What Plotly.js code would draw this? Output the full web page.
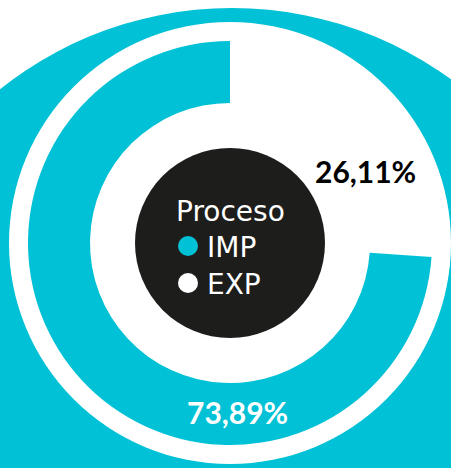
<!DOCTYPE html>
<html>
<head>
<meta charset="utf-8">
<script src="https://cdn.plot.ly/plotly-3.0.1.min.js"></script>
<style>html,body{margin:0;padding:0;background:#fff;}#chart{width:451px;height:468px;}</style>
</head>
<body>
<div id="chart"></div>
<script>
// ---- data ----
const legendTitle = "Proceso";
const categories = ["IMP", "EXP"];
const shares = [73.89, 26.11];
const sliceColors = ["#00c1d5", "#ffffff"];
const labelColors = ["#ffffff", "#000000"];

// ---- geometry (pixels) ----
const W = 451, H = 468;
const cx = 230, cy = 243;      // donut centre
const rOut = 202, rHole = 140; // donut radii
const px = x => x / W;
const py = y => 1 - y / H;

function fmt(v) { return v.toFixed(2).replace('.', ',') + '%'; }

const shapes = [
  {type:'circle', xref:'paper', yref:'paper', layer:'below',
   x0:px(232-372), x1:px(232+372), y0:py(380+372), y1:py(380-372),
   fillcolor:'#00c1d5', line:{width:0}},
  {type:'circle', xref:'paper', yref:'paper', layer:'below',
   x0:px(cx-221), x1:px(cx+221), y0:py(cy+221), y1:py(cy-221),
   fillcolor:'#ffffff', line:{width:0}},
  {type:'circle', xref:'paper', yref:'paper', layer:'above',
   x0:px(cx-95), x1:px(cx+95), y0:py(cy+95), y1:py(cy-95),
   fillcolor:'#1d1d1b', line:{width:0}}
];

const dotY = [246, 283];
categories.forEach((c, i) => {
  shapes.push({type:'circle', xref:'paper', yref:'paper', layer:'above',
    x0:px(178), x1:px(198), y0:py(dotY[i]+10), y1:py(dotY[i]-10),
    fillcolor:sliceColors[i], line:{width:0}});
});

const legendFont = {family:'DejaVu Sans, sans-serif', size:28, color:'#ffffff'};
const annotations = [
  {text:legendTitle, xref:'paper', yref:'paper', x:px(174), y:py(212), xanchor:'left', yanchor:'middle',
   showarrow:false, font:legendFont}
];
categories.forEach((c, i) => {
  annotations.push({text:c, xref:'paper', yref:'paper', x:px(205), y:py(dotY[i]+1), xanchor:'left', yanchor:'middle',
    showarrow:false, font:legendFont});
});
const labelPos = [[237, 412], [365, 171]];
shares.forEach((v, i) => {
  annotations.push({text:'<b>' + fmt(v) + '</b>', xref:'paper', yref:'paper',
    x:px(labelPos[i][0]), y:py(labelPos[i][1]), xanchor:'center', yanchor:'middle',
    showarrow:false, font:{family:'Lato, sans-serif', size:30, weight:900, color:labelColors[i]}});
});

// slices drawn starting at 12 o'clock with EXP first, going clockwise
const order = [1, 0];
const trace = {
  type:'pie', labels:order.map(i => categories[i]), values:order.map(i => shares[i]), sort:false,
  direction:'clockwise', rotation:0,
  hole:rHole/rOut, textinfo:'none', hoverinfo:'label+percent',
  marker:{colors:order.map(i => sliceColors[i]), line:{width:0}},
  domain:{x:[px(cx-rOut), px(cx+rOut)], y:[py(cy+rOut), py(cy-rOut)]},
  showlegend:false
};

Plotly.newPlot('chart', [trace], {
  width:W, height:H, margin:{l:0,r:0,t:0,b:0},
  paper_bgcolor:'#ffffff', plot_bgcolor:'#ffffff',
  showlegend:false, shapes:shapes, annotations:annotations
}, {displayModeBar:false, staticPlot:true});
</script>
</body>
</html>
